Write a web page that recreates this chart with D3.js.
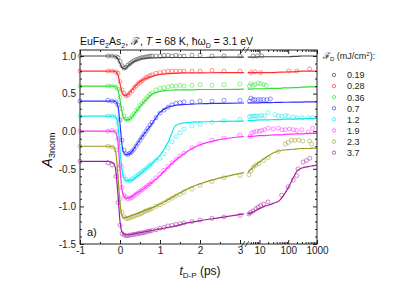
<!DOCTYPE html>
<html>
<head>
<meta charset="utf-8">
<script src="https://cdn.jsdelivr.net/npm/d3@7"></script>
<style>
  body { margin: 0; background: #fff; }
  svg { font-family: "Liberation Sans", Arial, sans-serif; }
</style>
</head>
<body>
<div id="chart"></div>
<script>
// ---- data ----
const fluences = ["0.19", "0.28", "0.36", "0.7", "1.2", "1.9", "2.3", "3.7"];
const xTicksLin = [-1, 0, 1, 2, 3];
const xTicksLog = [10, 100, 1000];
const yTicks = [-1.5, -1.0, -0.5, 0.0, 0.5, 1.0];

// measured points, linear part (ps)
const ptTimes = [-1, -0.3, -0.2, -0.1, -0.05, 0, 0.05, 0.1, 0.15, 0.2, 0.25, 0.3, 0.35, 0.4, 0.45, 0.5,
  0.55, 0.6, 0.65, 0.7, 0.75, 0.8, 0.9, 1.0, 1.1, 1.2, 1.3, 1.4, 1.5, 1.6, 1.8, 2.0, 2.3, 2.6, 3.0];
const pts019 = [1.0, 1.0, 1.0, 0.99, 0.98, 0.93, 0.87, 0.84, 0.85, 0.88, 0.9, 0.92, 0.94, 0.95, 0.96, 0.97,
  0.98, 0.98, 0.99, 0.99, 1.0, 1.0, 1.0, 1.0, 1.01, 1.01, 1.0, 1.01, 1.0, 1.0, 1.01, 1.01, 1.0, 1.0, 1.0];
const pts028 = [0.8, 0.8, 0.8, 0.79, 0.77, 0.66, 0.55, 0.5, 0.47, 0.48, 0.51, 0.54, 0.58, 0.6, 0.63, 0.65,
  0.67, 0.69, 0.71, 0.72, 0.74, 0.75, 0.77, 0.78, 0.79, 0.8, 0.8, 0.8, 0.8, 0.8, 0.8, 0.8, 0.81, 0.8, 0.8];
const pts036 = [0.6, 0.6, 0.6, 0.59, 0.56, 0.45, 0.3, 0.2, 0.16, 0.15, 0.17, 0.2, 0.23, 0.27, 0.3, 0.34,
  0.37, 0.4, 0.43, 0.46, 0.49, 0.51, 0.55, 0.57, 0.58, 0.59, 0.6, 0.6, 0.61, 0.6, 0.61, 0.62, 0.61, 0.62, 0.63];
const pts07 = [0.4, 0.41, 0.4, 0.39, 0.35, 0.15, -0.12, -0.25, -0.3, -0.31, -0.29, -0.27, -0.24, -0.2, -0.16, -0.12,
  -0.08, -0.04, 0.0, 0.04, 0.08, 0.12, 0.18, 0.24, 0.28, 0.32, 0.35, 0.37, 0.38, 0.39, 0.39, 0.4, 0.4, 0.41, 0.41];
const pts12 = [0.2, 0.2, 0.2, 0.19, 0.1, -0.2, -0.48, -0.6, -0.64, -0.66, -0.66, -0.64, -0.62, -0.6, -0.58, -0.56,
  -0.54, -0.52, -0.5, -0.47, -0.45, -0.43, -0.39, -0.36, -0.3, -0.22, -0.14, -0.07, -0.02, 0.03, 0.07, 0.09, 0.12, 0.14, 0.16];
const pts19 = [0.0, 0.0, 0.01, -0.01, -0.1, -0.45, -0.75, -0.85, -0.88, -0.9, -0.89, -0.88, -0.86, -0.84, -0.82, -0.8,
  -0.78, -0.76, -0.74, -0.72, -0.7, -0.67, -0.62, -0.57, -0.52, -0.47, -0.42, -0.37, -0.33, -0.29, -0.22, -0.17, -0.12, -0.09, -0.05];
const pts23 = [-0.2, -0.2, -0.21, -0.25, -0.5, -0.9, -1.08, -1.14, -1.16, -1.16, -1.15, -1.14, -1.13, -1.12, -1.11, -1.1,
  -1.09, -1.07, -1.06, -1.05, -1.04, -1.03, -1.0, -0.98, -0.95, -0.92, -0.89, -0.86, -0.84, -0.81, -0.77, -0.72, -0.67, -0.62, -0.59];
const pts37 = [-0.4, -0.42, -0.45, -0.6, -0.95, -1.25, -1.36, -1.38, -1.39, -1.39, -1.38, -1.38, -1.37, -1.37, -1.36, -1.36,
  -1.35, -1.35, -1.34, -1.33, -1.33, -1.32, -1.31, -1.29, -1.28, -1.26, -1.25, -1.24, -1.23, -1.22, -1.2, -1.18, -1.16, -1.14, -1.12];

// measured points, log part: [ps, A]
const logPts019 = [[6, 1.0], [8.5, 1.0], [12, 1.0]];
const logPts028 = [[5, 0.78], [7, 0.79], [11, 0.78], [105, 0.8], [200, 0.8], [550, 0.83]];
const logPts036 = [[4.5, 0.6], [5, 0.63], [6, 0.61], [7, 0.62], [9, 0.64], [11, 0.63], [14, 0.62], [17, 0.61]];
const logPts07 = [[4.5, 0.4], [5, 0.44], [6, 0.42], [7, 0.42], [9, 0.42], [11, 0.42], [14, 0.42], [18, 0.42], [24, 0.43]];
const logPts12 = [[4.5, 0.19], [5, 0.2], [6, 0.2], [7, 0.2], [8, 0.2], [10, 0.2], [12, 0.21], [15, 0.2], [20, 0.25],
  [35, 0.22], [45, 0.2], [60, 0.2], [80, 0.21], [100, 0.2], [150, 0.19], [200, 0.18], [300, 0.18], [500, 0.18], [700, 0.18]];
const logPts19 = [[4.7, -0.07], [5.5, -0.02], [6.5, -0.01], [8, 0.0], [10, 0.0], [12, 0.01], [15, 0.02], [20, 0.04], [30, 0.03],
  [45, 0.04], [60, 0.02], [80, 0.02], [110, 0.03], [150, 0.02], [200, 0.01], [300, 0.02], [500, -0.01], [700, 0.04]];
const logPts23 = [[4.3, -0.58], [5, -0.53], [6, -0.48], [7.5, -0.45], [9.5, -0.43], [14, -0.39], [20, -0.35], [45, -0.27],
  [80, -0.17], [100, -0.15], [130, -0.12], [170, -0.12], [230, -0.12], [320, -0.13], [550, -0.13], [650, -0.17]];
const logPts37 = [[4.3, -1.1], [5, -1.08], [6, -1.06], [7.5, -1.03], [9, -1.01], [11, -0.99], [14, -0.97], [20, -0.94],
  [59, -0.85], [100, -0.74], [150, -0.65], [195, -0.59], [220, -0.5], [330, -0.41], [430, -0.39], [560, -0.36]];

// fitted curves
const fitTimesLin = [-1, -0.3, -0.15, -0.1, -0.05, 0, 0.05, 0.1, 0.15, 0.2, 0.3, 0.4, 0.5, 0.6, 0.8, 1.0, 1.2, 1.4, 1.6, 1.8, 2.0, 2.5, 3.1];
const fitTimesLog = [3.9, 5, 7, 10, 15, 20, 30, 50, 70, 100, 150, 200, 300, 500, 700, 1000];
const fit019 = [1.0, 1.0, 1.0, 0.99, 0.96, 0.9, 0.85, 0.83, 0.84, 0.87, 0.91, 0.94, 0.96, 0.97, 0.975, 0.978, 0.98, 0.98, 0.98, 0.98, 0.98, 0.985, 0.985];
const fit028 = [0.8, 0.8, 0.8, 0.79, 0.75, 0.63, 0.52, 0.48, 0.47, 0.49, 0.55, 0.61, 0.66, 0.69, 0.73, 0.755, 0.765, 0.77, 0.775, 0.775, 0.775, 0.78, 0.78];
const fit036 = [0.6, 0.6, 0.6, 0.59, 0.55, 0.42, 0.25, 0.17, 0.15, 0.15, 0.19, 0.26, 0.33, 0.39, 0.49, 0.53, 0.545, 0.55, 0.55, 0.55, 0.555, 0.555, 0.56];
const fit07 = [0.4, 0.4, 0.4, 0.39, 0.33, 0.1, -0.18, -0.29, -0.31, -0.31, -0.27, -0.19, -0.11, -0.04, 0.1, 0.25, 0.32, 0.345, 0.355, 0.36, 0.365, 0.37, 0.375];
const fit12 = [0.2, 0.2, 0.2, 0.18, 0.08, -0.25, -0.52, -0.62, -0.65, -0.66, -0.65, -0.61, -0.57, -0.52, -0.43, -0.32, -0.15, 0.08, 0.11, 0.12, 0.125, 0.13, 0.135];
const fit19 = [0, 0, 0, -0.02, -0.15, -0.5, -0.78, -0.86, -0.89, -0.89, -0.87, -0.83, -0.8, -0.76, -0.68, -0.59, -0.48, -0.38, -0.3, -0.23, -0.18, -0.11, -0.07];
const fit23 = [-0.2, -0.2, -0.21, -0.3, -0.6, -0.95, -1.12, -1.15, -1.15, -1.14, -1.12, -1.1, -1.08, -1.06, -1.02, -0.97, -0.91, -0.85, -0.79, -0.74, -0.7, -0.62, -0.55];
const fit37 = [-0.4, -0.4, -0.43, -0.55, -0.85, -1.2, -1.34, -1.37, -1.38, -1.38, -1.37, -1.36, -1.35, -1.34, -1.32, -1.3, -1.28, -1.26, -1.23, -1.21, -1.19, -1.15, -1.1];
const fitLog019 = [0.985, 0.985, 0.985, 0.99, 0.99, 0.99, 0.99, 0.99, 0.99, 0.99, 0.995, 0.995, 1.0, 1.0, 1.0, 1.0];
const fitLog028 = [0.78, 0.78, 0.78, 0.78, 0.78, 0.78, 0.78, 0.785, 0.785, 0.79, 0.79, 0.795, 0.8, 0.8, 0.8, 0.8];
const fitLog036 = [0.56, 0.56, 0.565, 0.565, 0.565, 0.57, 0.57, 0.57, 0.575, 0.575, 0.58, 0.58, 0.585, 0.59, 0.59, 0.59];
const fitLog07 = [0.375, 0.375, 0.377, 0.378, 0.38, 0.38, 0.382, 0.383, 0.385, 0.385, 0.386, 0.387, 0.388, 0.39, 0.39, 0.39];
const fitLog12 = [0.14, 0.14, 0.145, 0.15, 0.15, 0.15, 0.155, 0.155, 0.16, 0.16, 0.16, 0.165, 0.165, 0.17, 0.17, 0.17];
const fitLog19 = [-0.07, -0.07, -0.065, -0.06, -0.06, -0.055, -0.05, -0.05, -0.045, -0.04, -0.04, -0.035, -0.035, -0.03, -0.03, -0.03];
const fitLog23 = [-0.55, -0.51, -0.46, -0.41, -0.36, -0.33, -0.29, -0.26, -0.25, -0.245, -0.24, -0.235, -0.23, -0.23, -0.225, -0.225];
const fitLog37 = [-1.1, -1.09, -1.06, -1.03, -1.0, -0.985, -0.96, -0.92, -0.85, -0.75, -0.62, -0.53, -0.49, -0.47, -0.46, -0.45];

const colors = ["#444444", "#ff3030", "#30e030", "#3030ff", "#10e8e8", "#ff30ff", "#9a9a20", "#a020a0"];

const series = [
  {pts: pts019, logPts: logPts019, fit: fit019, fitLog: fitLog019},
  {pts: pts028, logPts: logPts028, fit: fit028, fitLog: fitLog028},
  {pts: pts036, logPts: logPts036, fit: fit036, fitLog: fitLog036},
  {pts: pts07, logPts: logPts07, fit: fit07, fitLog: fitLog07},
  {pts: pts12, logPts: logPts12, fit: fit12, fitLog: fitLog12},
  {pts: pts19, logPts: logPts19, fit: fit19, fitLog: fitLog19},
  {pts: pts23, logPts: logPts23, fit: fit23, fitLog: fitLog23},
  {pts: pts37, logPts: logPts37, fit: fit37, fitLog: fitLog37}
];

// ---- layout ----
const margin = {top: 50, left: 80};
const width = 237, height = 194;
const linW = 164, gap = 4;

const xLin = d3.scaleLinear().domain([-1, 3.1]).range([0, linW]);
const xLog = d3.scaleLog().domain([4, 1000]).range([linW + gap, width]);
const x = t => t < 3.5 ? xLin(t) : xLog(t);
const y = d3.scaleLinear().domain([-1.5, 1.08]).range([height, 0]);

const svg = d3.select("#chart").append("svg")
  .attr("width", 415).attr("height", 294);

const g = svg.append("g").attr("transform", `translate(${margin.left},${margin.top})`);

function drawAxes() {
  const minorLin = [-0.5, 0.5, 1.5, 2.5];
  const minorLog = [5, 6, 7, 8, 9, 20, 30, 40, 50, 60, 70, 80, 90, 200, 300, 400, 500, 600, 700, 800, 900];
  const minorY = y.ticks(26).filter(v => !yTicks.some(t => Math.abs(t - v) < 1e-6));
  const plain = d => String(d);

  const axes = [
    [d3.axisBottom(xLin).tickValues(xTicksLin).tickSize(-4).tickPadding(3).tickFormat(plain), `translate(0,${height})`],
    [d3.axisBottom(xLin).tickValues(minorLin).tickSize(-2).tickFormat(""), `translate(0,${height})`],
    [d3.axisBottom(xLog).tickValues(xTicksLog).tickSize(-4).tickPadding(3).tickFormat(plain), `translate(0,${height})`],
    [d3.axisBottom(xLog).tickValues(minorLog).tickSize(-2).tickFormat(""), `translate(0,${height})`],
    [d3.axisTop(xLin).tickValues(xTicksLin).tickSize(-4).tickFormat(""), null],
    [d3.axisTop(xLin).tickValues(minorLin).tickSize(-2).tickFormat(""), null],
    [d3.axisTop(xLog).tickValues(xTicksLog).tickSize(-4).tickFormat(""), null],
    [d3.axisTop(xLog).tickValues(minorLog).tickSize(-2).tickFormat(""), null],
    [d3.axisLeft(y).tickValues(yTicks).tickSize(-4).tickPadding(4).tickFormat(d => d.toFixed(1)), null],
    [d3.axisLeft(y).tickValues(minorY).tickSize(-2).tickFormat(""), null],
    [d3.axisRight(y).tickValues(yTicks).tickSize(-4).tickFormat(""), `translate(${width},0)`],
    [d3.axisRight(y).tickValues(minorY).tickSize(-2).tickFormat(""), `translate(${width},0)`]
  ];

  axes.forEach(([axis, tr]) => {
    const a = g.append("g").call(axis);
    if (tr) a.attr("transform", tr);
    a.select(".domain").remove();
    a.selectAll("line").attr("stroke", "#222");
    a.selectAll("text").style("font-size", "10px").attr("fill", "#222");
  });

  g.append("rect")
    .attr("width", width).attr("height", height)
    .attr("fill", "none").attr("stroke", "#222").attr("stroke-width", 1);

  // axis break marks
  [0, height].forEach(yy => {
    [linW - 1, linW + 3].forEach(xx => {
      g.append("line")
        .attr("x1", xx - 2).attr("y1", yy + 3)
        .attr("x2", xx + 2).attr("y2", yy - 3)
        .attr("stroke", "#222").attr("stroke-width", 0.8);
    });
  });
}

function drawSeries() {
  const line = d3.line()
    .x(d => x(d[0]))
    .y(d => y(d[1]))
    .curve(d3.curveMonotoneX);

  series.forEach((s, i) => {
    const c = colors[i];
    const pts = ptTimes.map((t, k) => [t, s.pts[k]]).concat(s.logPts);

    g.append("g").selectAll("circle")
      .data(pts)
      .enter().append("circle")
      .attr("cx", d => x(d[0]))
      .attr("cy", d => y(d[1]))
      .attr("r", 2)
      .attr("fill", "none")
      .attr("stroke", c)
      .attr("stroke-opacity", 0.75)
      .attr("stroke-width", 0.7);

    g.append("path")
      .datum(fitTimesLin.map((t, k) => [t, s.fit[k]]))
      .attr("fill", "none").attr("stroke", c).attr("stroke-width", 1.2)
      .attr("d", line);

    g.append("path")
      .datum(fitTimesLog.map((t, k) => [t, s.fitLog[k]]))
      .attr("fill", "none").attr("stroke", c).attr("stroke-width", 1.2)
      .attr("d", line);
  });
}

function drawLabels() {
  const title = svg.append("text")
    .attr("x", 80).attr("y", 45)
    .style("font-size", "10.5px").attr("fill", "#111");
  title.append("tspan").text("EuFe");
  title.append("tspan").attr("dy", 3).style("font-size", "7px").text("2");
  title.append("tspan").attr("dy", -3).text("As");
  title.append("tspan").attr("dy", 3).style("font-size", "7px").text("2");
  title.append("tspan").attr("dy", -3).text(", ℱ, ");
  title.append("tspan").style("font-style", "italic").text("T");
  title.append("tspan").text(" = 68 K, ħω");
  title.append("tspan").attr("dy", 3).style("font-size", "7px").text("D");
  title.append("tspan").attr("dy", -3).text(" = 3.1 eV");

  const yl = svg.append("text")
    .attr("transform", "translate(52,150) rotate(-90)")
    .attr("text-anchor", "middle").attr("fill", "#111");
  yl.append("tspan").style("font-size", "14px").style("font-style", "italic").text("A");
  yl.append("tspan").attr("dy", 3).style("font-size", "9px").text("3norm");

  const xl = svg.append("text")
    .attr("x", 200).attr("y", 275)
    .attr("text-anchor", "middle").attr("fill", "#111").style("font-size", "12px");
  xl.append("tspan").style("font-style", "italic").text("t");
  xl.append("tspan").attr("dy", 3).style("font-size", "8px").text("D-P");
  xl.append("tspan").attr("dy", -3).text(" (ps)");

  svg.append("text")
    .attr("x", 87).attr("y", 236)
    .style("font-size", "11px").attr("fill", "#111").text("a)");
}

function drawLegend() {
  const lg = svg.append("g").attr("transform", "translate(323,59)");
  const head = lg.append("text").style("font-size", "9px").attr("fill", "#222");
  head.append("tspan").text("ℱ");
  head.append("tspan").attr("dy", 2).style("font-size", "6px").text("D");
  head.append("tspan").attr("dy", -2).text(" (mJ/cm");
  head.append("tspan").attr("dy", -3).style("font-size", "6px").text("2");
  head.append("tspan").attr("dy", 3).text("):");

  fluences.forEach((f, i) => {
    const yy = 16 + i * 11.1;
    lg.append("circle")
      .attr("cx", 11).attr("cy", yy).attr("r", 1.7)
      .attr("fill", "none").attr("stroke", colors[i]).attr("stroke-width", 0.7);
    lg.append("text")
      .attr("x", 24).attr("y", yy + 3.3)
      .style("font-size", "9px").attr("fill", "#222").text(f);
  });
}

drawSeries();
drawAxes();
drawLabels();
drawLegend();
</script>
</body>
</html>
